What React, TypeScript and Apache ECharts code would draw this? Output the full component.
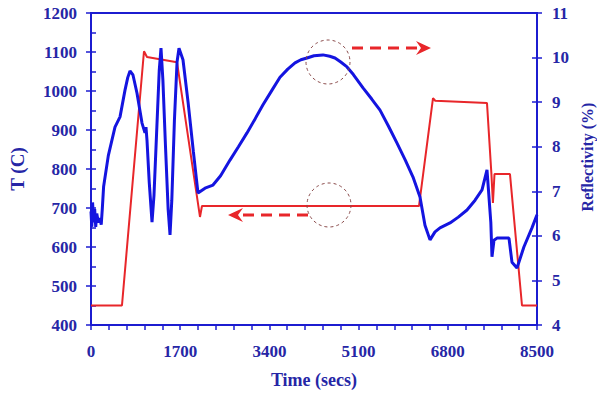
import React, { useEffect, useRef } from "react";
import * as echarts from "echarts";

// Temperature (left axis, °C): [time (s), T]
const tempData: [number, number][] = [
  [0, 450], [590, 450], [1010, 1102], [1067, 1087], [1639, 1074], [2077, 677], [2115, 705],
  [6251, 705], [6518, 982], [6560, 975], [7547, 969], [7630, 790], [7660, 713], [7690, 787],
  [7985, 787], [8214, 450], [8500, 450],
];

// Reflectivity (right axis, %): [time (s), R]
const reflData: [number, number][] = [
  [0, 6.55], [15, 6.2], [30, 6.75], [50, 6.3], [70, 6.6], [90, 6.2], [110, 6.5], [140, 6.3],
  [170, 6.4], [195, 6.25], [215, 6.6], [240, 7.1], [330, 7.8], [457, 8.44], [553, 8.67],
  [648, 9.27], [700, 9.55], [743, 9.7], [800, 9.61], [877, 9.2], [972, 8.53], [1029, 8.31],
  [1048, 8.44], [1067, 8.15], [1110, 7.2], [1163, 6.31], [1200, 6.9], [1250, 8.3], [1300, 9.7],
  [1334, 10.21], [1370, 9.5], [1420, 8.0], [1470, 6.6], [1506, 6.02], [1540, 6.8], [1590, 8.6],
  [1640, 9.9], [1677, 10.21], [1753, 9.95], [1850, 9.0], [1950, 7.9], [2039, 6.96], [2173, 7.07],
  [2325, 7.14], [2470, 7.35], [2649, 7.7], [2810, 8.0], [2973, 8.31], [3130, 8.63], [3278, 8.94],
  [3450, 9.27], [3602, 9.56], [3750, 9.74], [3888, 9.88], [4000, 9.95], [4117, 9.99],
  [4250, 10.04], [4421, 10.06], [4550, 10.03], [4650, 9.99], [4760, 9.9], [4879, 9.79],
  [5000, 9.62], [5184, 9.32], [5350, 9.07], [5508, 8.82], [5670, 8.46], [5832, 8.08],
  [5990, 7.7], [6137, 7.32], [6270, 6.87], [6365, 6.24], [6461, 5.91], [6556, 6.09],
  [6651, 6.18], [6842, 6.29], [7000, 6.42], [7166, 6.58], [7320, 6.8], [7452, 7.03],
  [7547, 7.48], [7620, 6.3], [7642, 5.53], [7680, 5.9], [7737, 5.95], [7966, 5.95],
  [8023, 5.41], [8119, 5.28], [8250, 5.75], [8404, 6.18], [8500, 6.47],
];

const xMin = 0;
const xMax = 8500;
const xTickStep = 340;
const xLabelStep = 1700;
const tMin = 400;
const tMax = 1200;
const tStep = 100;
const rMin = 4;
const rMax = 11;
const rStep = 1;

const AXIS = "#1c1cd0";
const TEXT = "#2626a6";
const BLUE = "#1414e0";
const RED = "#e8262a";
const FONT = "'Liberation Serif', 'DejaVu Serif', serif";

export default function App() {
  const ref = useRef<HTMLDivElement>(null);
  useEffect(() => {
    if (!ref.current) return;
    const chart = echarts.init(ref.current, undefined, { renderer: "svg" });
    const labelStyle = { color: TEXT, fontFamily: FONT, fontWeight: "bold" as const, fontSize: 17 };
    const circleStyle = { fill: "none", stroke: "#8a4a4a", lineWidth: 1, lineDash: [3, 3] };
    const arrowLine = { stroke: RED, lineWidth: 3, lineDash: [11, 7] };
    chart.setOption({
      animation: false,
      backgroundColor: "#ffffff",
      grid: {
        left: 91, right: 60, top: 13, bottom: 69, show: true, borderColor: AXIS, borderWidth: 2,
        backgroundColor: "transparent", containLabel: false, outerBoundsMode: "none",
      },
      xAxis: {
        type: "value", min: xMin, max: xMax, interval: xTickStep,
        axisLine: { show: true, lineStyle: { color: AXIS, width: 2 } },
        axisTick: { show: true, inside: false, length: 5, lineStyle: { color: AXIS, width: 1.5 } },
        axisLabel: {
          ...labelStyle, margin: 18,
          formatter: (v: number) => (v % xLabelStep === 0 ? String(v) : ""),
        },
        splitLine: { show: false },
        name: "Time (secs)", nameLocation: "middle", nameGap: 46,
        nameTextStyle: { ...labelStyle, fontSize: 18 },
      },
      yAxis: [
        {
          type: "value", position: "left", min: tMin, max: tMax, interval: tStep,
          axisLine: { show: true, lineStyle: { color: AXIS, width: 2 } },
          axisTick: { show: true, inside: true, length: 5, lineStyle: { color: AXIS, width: 1.5 } },
          minorTick: { show: true, splitNumber: 2, length: 5, lineStyle: { color: AXIS, width: 1.5 } },
          axisLabel: { ...labelStyle, margin: 14, formatter: (v: number) => String(v) },
          splitLine: { show: false },
          name: "T (C)", nameLocation: "middle", nameGap: 64,
          nameTextStyle: { ...labelStyle, fontSize: 19 },
        },
        {
          type: "value", position: "right", min: rMin, max: rMax, interval: rStep,
          axisLine: { show: true, lineStyle: { color: AXIS, width: 2 } },
          axisTick: { show: true, inside: true, length: 5, lineStyle: { color: AXIS, width: 1.5 } },
          axisLabel: { ...labelStyle, margin: 15, formatter: (v: number) => String(v) },
          splitLine: { show: false },
          name: "Reflectivity (%)", nameLocation: "middle", nameGap: 42,
          nameTextStyle: { ...labelStyle, fontSize: 16, padding: [0, 0, 0, 24] },
        },
        {
          type: "value", position: "left", min: tMin, max: tMax, interval: tStep,
          axisLine: { show: false },
          axisTick: { show: true, inside: false, length: 5, lineStyle: { color: AXIS, width: 1.5 } },
          axisLabel: { show: false }, splitLine: { show: false },
        },
        {
          type: "value", position: "right", min: rMin, max: rMax, interval: rStep,
          axisLine: { show: false },
          axisTick: { show: true, inside: false, length: 5, lineStyle: { color: AXIS, width: 1.5 } },
          axisLabel: { show: false }, splitLine: { show: false },
        },
      ],
      series: [
        {
          name: "T", type: "line", yAxisIndex: 0, data: tempData, showSymbol: false,
          lineStyle: { color: RED, width: 2 }, itemStyle: { color: RED }, z: 2,
        },
        {
          name: "Reflectivity", type: "line", yAxisIndex: 1, data: reflData, showSymbol: false,
          lineStyle: { color: BLUE, width: 3 }, itemStyle: { color: BLUE }, z: 3,
        },
      ],
      graphic: [
        { type: "circle", shape: { cx: 328, cy: 62, r: 22 }, style: circleStyle, z: 10 },
        { type: "circle", shape: { cx: 329, cy: 205, r: 22 }, style: circleStyle, z: 10 },
        { type: "line", shape: { x1: 352, y1: 48, x2: 420, y2: 48 }, style: arrowLine, z: 10 },
        { type: "polygon", shape: { points: [[416, 41], [431, 48], [416, 55], [421, 48]] }, style: { fill: RED }, z: 10 },
        { type: "line", shape: { x1: 308, y1: 215, x2: 238, y2: 215 }, style: arrowLine, z: 10 },
        { type: "polygon", shape: { points: [[243, 208], [228, 215], [243, 222], [238, 215]] }, style: { fill: RED }, z: 10 },
      ],
    });
    return () => chart.dispose();
  }, []);
  return <div ref={ref} style={{ position: "fixed", left: 0, top: 0, width: 597, height: 394 }} />;
}
